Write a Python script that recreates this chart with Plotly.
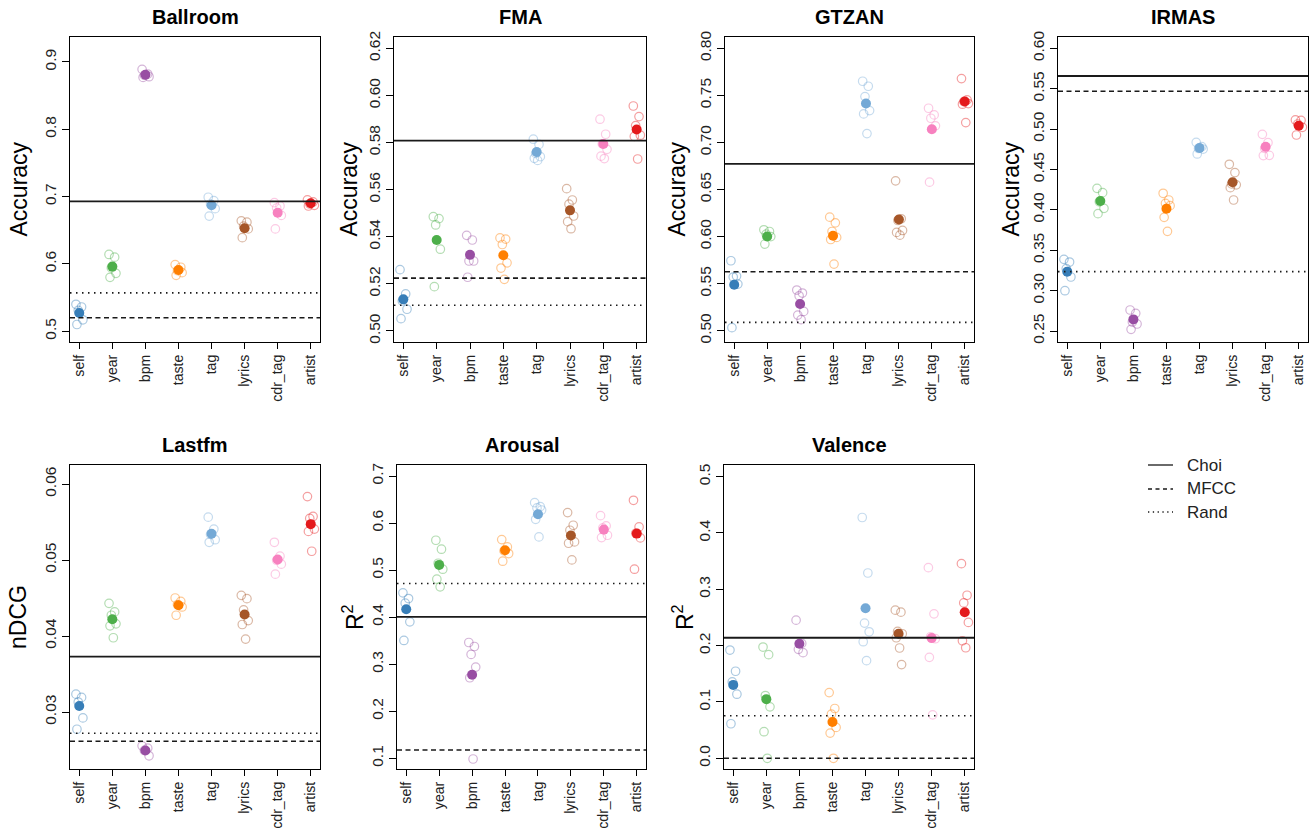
import plotly.graph_objects as go

W, H = 1314, 828
FONT = "Liberation Sans, Arial, Helvetica, sans-serif"

# ---- categories and colours ----
categories = ["self", "year", "bpm", "taste", "tag", "lyrics", "cdr_tag", "artist"]
point_colors = ["#377EB8", "#4DAF4A", "#984EA3", "#FF7F00",
                "#74A9D6", "#A65628", "#F781BF", "#E41A1C"]

# ---- per-run scores (open circles) and mean score (filled dot) ----
ballroom_runs = [
    [0.540, 0.536, 0.531, 0.517, 0.510],
    [0.614, 0.610, 0.594, 0.586, 0.580],
    [0.889, 0.882, 0.880, 0.878, 0.877],
    [0.599, 0.595, 0.590, 0.587, 0.583],
    [0.699, 0.694, 0.689, 0.682, 0.671],
    [0.664, 0.662, 0.656, 0.652, 0.639],
    [0.691, 0.686, 0.683, 0.672, 0.652],
    [0.695, 0.692, 0.689, 0.687, 0.686],
]
ballroom_mean = [0.527, 0.596, 0.881, 0.591, 0.687, 0.653, 0.676, 0.690]
ballroom_choi, ballroom_mfcc, ballroom_rand = 0.693, 0.520, 0.557

fma_runs = [
    [0.5260, 0.5157, 0.5127, 0.5092, 0.5052],
    [0.5485, 0.5477, 0.5450, 0.5347, 0.5188],
    [0.5406, 0.5386, 0.5297, 0.5297, 0.5228],
    [0.5395, 0.5390, 0.5367, 0.5289, 0.5267, 0.5219],
    [0.5814, 0.5792, 0.5754, 0.5740, 0.5733, 0.5724],
    [0.5604, 0.5556, 0.5538, 0.5488, 0.5464, 0.5434],
    [0.5899, 0.5835, 0.5794, 0.5771, 0.5742, 0.5732],
    [0.5955, 0.5910, 0.5872, 0.5831, 0.5826, 0.5730],
]
fma_mean = [0.5134, 0.5386, 0.5323, 0.5321, 0.5760, 0.5512, 0.5794, 0.5855]
fma_choi, fma_mfcc, fma_rand = 0.5808, 0.5224, 0.5109

gtzan_runs = [
    [0.5743, 0.5580, 0.5570, 0.5495, 0.5032],
    [0.6072, 0.6054, 0.6026, 0.6000, 0.5920],
    [0.5432, 0.5400, 0.5371, 0.5205, 0.5166, 0.5117],
    [0.6206, 0.6146, 0.6054, 0.5991, 0.5969, 0.5708],
    [0.7650, 0.7597, 0.7487, 0.7338, 0.7303, 0.7094],
    [0.6592, 0.6189, 0.6171, 0.6065, 0.6044, 0.6015],
    [0.7363, 0.7292, 0.7257, 0.7176, 0.6578],
    [0.7678, 0.7452, 0.7434, 0.7413, 0.7406, 0.7211],
]
gtzan_mean = [0.5488, 0.6001, 0.5283, 0.6008, 0.7413, 0.6182, 0.7140, 0.7434]
gtzan_choi, gtzan_mfcc, gtzan_rand = 0.6772, 0.5626, 0.5088

irmas_runs = [
    [0.3387, 0.3354, 0.3272, 0.3169, 0.2999],
    [0.4266, 0.4213, 0.4100, 0.4019, 0.3953],
    [0.2760, 0.2719, 0.2611, 0.2587, 0.2521],
    [0.4205, 0.4122, 0.4081, 0.4052, 0.3907, 0.3734],
    [0.4836, 0.4782, 0.4760, 0.4753, 0.4692],
    [0.4564, 0.4461, 0.4321, 0.4310, 0.4275, 0.4122],
    [0.4935, 0.4832, 0.4762, 0.4675, 0.4672],
    [0.5113, 0.5108, 0.5063, 0.5022, 0.4927],
]
irmas_mean = [0.3235, 0.4110, 0.2644, 0.4015, 0.4766, 0.4341, 0.4782, 0.5042]
irmas_choi, irmas_mfcc, irmas_rand = 0.5657, 0.5468, 0.3235

lastfm_runs = [
    [0.03235, 0.03192, 0.03131, 0.02922, 0.02773],
    [0.04430, 0.04317, 0.04273, 0.04160, 0.04134, 0.03977],
    [0.02555, 0.02524, 0.02494, 0.02424],
    [0.04500, 0.04456, 0.04413, 0.04382, 0.04273],
    [0.05564, 0.05407, 0.05337, 0.05267, 0.05233],
    [0.04535, 0.04491, 0.04343, 0.04203, 0.04151, 0.03959],
    [0.05233, 0.05050, 0.04997, 0.04945, 0.04814],
    [0.05834, 0.05573, 0.05547, 0.05407, 0.05376, 0.05115],
]
lastfm_mean = [0.03078, 0.04221, 0.02494, 0.04404, 0.05346, 0.04282, 0.05006, 0.05472]
lastfm_choi, lastfm_mfcc, lastfm_rand = 0.03728, 0.02616, 0.02721

arousal_runs = [
    [0.4517, 0.4396, 0.4297, 0.3901, 0.3505],
    [0.5635, 0.5444, 0.5146, 0.5019, 0.4807, 0.4644],
    [0.3462, 0.3377, 0.3208, 0.2939, 0.2712, 0.0986],
    [0.5649, 0.5493, 0.5408, 0.5352, 0.5189],
    [0.6434, 0.6349, 0.6321, 0.6278, 0.6080, 0.5705],
    [0.6222, 0.5953, 0.5847, 0.5599, 0.5571, 0.5217],
    [0.6158, 0.5939, 0.5896, 0.5741, 0.5691],
    [0.6484, 0.5918, 0.5783, 0.5684, 0.5019],
]
arousal_mean = [0.4170, 0.5111, 0.2776, 0.5422, 0.6186, 0.5734, 0.5861, 0.5776]
arousal_choi, arousal_mfcc, arousal_rand = 0.4007, 0.1177, 0.4715

valence_runs = [
    [0.1922, 0.1545, 0.1356, 0.1138, 0.0613],
    [0.1975, 0.1840, 0.1114, 0.0914, 0.0472, 0.0000],
    [0.2453, 0.2040, 0.1934, 0.1875],
    [0.1167, 0.0884, 0.0784, 0.0548, 0.0448, 0.0000],
    [0.4275, 0.3290, 0.2400, 0.2246, 0.2070, 0.1733],
    [0.2630, 0.2594, 0.2252, 0.2211, 0.2140, 0.1958, 0.1663],
    [0.3384, 0.2565, 0.2158, 0.2123, 0.1792, 0.0772],
    [0.3455, 0.2895, 0.2759, 0.2412, 0.2087, 0.1963],
]
valence_mean = [0.1303, 0.1050, 0.2034, 0.0643, 0.2665, 0.2211, 0.2134, 0.2594]
valence_choi, valence_mfcc, valence_rand = 0.2140, 0.0000, 0.0755

# ---- y tick labels ----
ballroom_ticks = ["0.5", "0.6", "0.7", "0.8", "0.9"]
fma_ticks = ["0.50", "0.52", "0.54", "0.56", "0.58", "0.60", "0.62"]
gtzan_ticks = ["0.50", "0.55", "0.60", "0.65", "0.70", "0.75", "0.80"]
irmas_ticks = ["0.25", "0.30", "0.35", "0.40", "0.45", "0.50", "0.55", "0.60"]
lastfm_ticks = ["0.03", "0.04", "0.05", "0.06"]
arousal_ticks = ["0.1", "0.2", "0.3", "0.4", "0.5", "0.6", "0.7"]
valence_ticks = ["0.0", "0.1", "0.2", "0.3", "0.4", "0.5"]

panels = [
    dict(title="Ballroom", ylab="Accuracy", runs=ballroom_runs, mean=ballroom_mean,
         base=(ballroom_choi, ballroom_mfcc, ballroom_rand), ticks=ballroom_ticks,
         box=(70, 320, 37, 342), yr=(0.484, 0.937), ylab_x=18),
    dict(title="FMA", ylab="Accuracy", runs=fma_runs, mean=fma_mean,
         base=(fma_choi, fma_mfcc, fma_rand), ticks=fma_ticks,
         box=(394, 646, 37, 342), yr=(0.4953, 0.6248), ylab_x=348),
    dict(title="GTZAN", ylab="Accuracy", runs=gtzan_runs, mean=gtzan_mean,
         base=(gtzan_choi, gtzan_mfcc, gtzan_rand), ticks=gtzan_ticks,
         box=(725, 974, 37, 342), yr=(0.488, 0.812), ylab_x=676),
    dict(title="IRMAS", ylab="Accuracy", runs=irmas_runs, mean=irmas_mean,
         base=(irmas_choi, irmas_mfcc, irmas_rand), ticks=irmas_ticks,
         box=(1058, 1308, 37, 342), yr=(0.2364, 0.614), ylab_x=1010),
    dict(title="Lastfm", ylab="nDCG", runs=lastfm_runs, mean=lastfm_mean,
         base=(lastfm_choi, lastfm_mfcc, lastfm_rand), ticks=lastfm_ticks,
         box=(70, 320, 465, 769), yr=(0.0225, 0.0625), ylab_x=18),
    dict(title="Arousal", ylab="R<sup>2</sup>", runs=arousal_runs, mean=arousal_mean,
         base=(arousal_choi, arousal_mfcc, arousal_rand), ticks=arousal_ticks,
         box=(397, 646, 465, 769), yr=(0.0773, 0.7234), ylab_x=353),
    dict(title="Valence", ylab="R<sup>2</sup>", runs=valence_runs, mean=valence_mean,
         base=(valence_choi, valence_mfcc, valence_rand), ticks=valence_ticks,
         box=(724, 974, 465, 769), yr=(-0.019, 0.5207), ylab_x=683),
]

# horizontal jitter pattern for the individual runs
JITTER = [-0.10, 0.07, -0.03, 0.11, -0.07, 0.03, 0.09]
LINE_STYLES = [("solid", 1.8), ("5px,3.5px", 1.6), ("1.5px,4.5px", 1.6)]
LINE_COLOR = "#1a1a1a"
XTICK_FONT = dict(size=14.1, family=FONT, color="#222222")
YTICK_FONT = dict(size=15.5, family=FONT, color="#222222")


def px_x(p):
    return p / W


def px_y(p):
    return 1 - p / H


def rgba(hex_color, a):
    h = hex_color.lstrip("#")
    r, g, b = int(h[0:2], 16), int(h[2:4], 16), int(h[4:6], 16)
    return f"rgba({r},{g},{b},{a})"


fig = go.Figure()
layout = dict(
    width=W, height=H,
    margin=dict(l=0, r=0, t=0, b=0, autoexpand=False),
    paper_bgcolor="white", plot_bgcolor="white",
    showlegend=False,
    font=dict(family=FONT, color="#222222"),
)
shapes = []
annotations = []

for i, p in enumerate(panels):
    n = "" if i == 0 else str(i + 1)
    xa, ya = "x" + n, "y" + n
    x0, x1, y0, y1 = p["box"]

    ox, oy = [], []
    for ci, vals in enumerate(p["runs"]):
        for k, v in enumerate(vals):
            ox.append(ci + 1 + JITTER[k % len(JITTER)])
            oy.append(v)
    ocol = [rgba(point_colors[ci], 0.42)
            for ci, vals in enumerate(p["runs"]) for _ in vals]
    fig.add_trace(go.Scatter(
        x=ox, y=oy, mode="markers", xaxis=xa, yaxis=ya,
        marker=dict(symbol="circle-open", size=8.5, color=ocol,
                    line=dict(width=1.2, color=ocol)),
        hoverinfo="skip"))
    fig.add_trace(go.Scatter(
        x=list(range(1, len(categories) + 1)), y=p["mean"], mode="markers",
        xaxis=xa, yaxis=ya,
        marker=dict(symbol="circle", size=10, color=point_colors,
                    line=dict(width=0)),
        hoverinfo="skip"))

    for val, (dash, lw) in zip(p["base"], LINE_STYLES):
        shapes.append(dict(type="line", xref=xa + " domain", yref=ya,
                           x0=0, x1=1, y0=val, y1=val,
                           line=dict(color=LINE_COLOR, width=lw, dash=dash)))

    tickvals = [float(t) for t in p["ticks"]]
    layout["xaxis" + n] = dict(
        domain=[px_x(x0), px_x(x1)], anchor=ya, range=[0.72, 8.28],
        tickvals=list(range(1, len(categories) + 1)), ticktext=categories,
        tickangle=-90, ticks="outside", ticklen=6, tickwidth=1, tickcolor="black",
        automargin=False,
        showline=True, mirror=True, linecolor="black", linewidth=1.2,
        showgrid=False, zeroline=False, fixedrange=True, tickfont=XTICK_FONT)
    layout["yaxis" + n] = dict(
        domain=[px_y(y1), px_y(y0)], anchor=xa, range=list(p["yr"]),
        tickvals=tickvals, ticktext=p["ticks"], automargin=False,
        tickangle=-90, ticks="outside", ticklen=7, tickwidth=1, tickcolor="black",
        showline=True, mirror=True, linecolor="black", linewidth=1.2,
        showgrid=False, zeroline=False, fixedrange=True, tickfont=YTICK_FONT)

    annotations.append(dict(
        text="<b>" + p["title"] + "</b>", xref="paper", yref="paper",
        x=px_x((x0 + x1) / 2), y=px_y(y0 - 20), xanchor="center", yanchor="middle",
        showarrow=False, font=dict(size=20, family=FONT, color="black")))
    annotations.append(dict(
        text=p["ylab"], xref="paper", yref="paper", textangle=-90,
        x=px_x(p["ylab_x"]), y=px_y((y0 + y1) / 2), xanchor="center", yanchor="middle",
        showarrow=False, font=dict(size=23, family=FONT, color="black")))

# legend for the reference lines
legend_names = ["Choi", "MFCC", "Rand"]
legend_y = [465, 489, 512]
legend_dash = ["solid", "4px,3.5px", "1.3px,3.5px"]
for name, yy, dash in zip(legend_names, legend_y, legend_dash):
    shapes.append(dict(type="line", xref="paper", yref="paper",
                       x0=px_x(1148), x1=px_x(1173), y0=px_y(yy), y1=px_y(yy),
                       line=dict(color=LINE_COLOR, width=1.3, dash=dash)))
    annotations.append(dict(
        text=name, xref="paper", yref="paper", x=px_x(1185), y=px_y(yy),
        xanchor="left", yanchor="middle", showarrow=False,
        font=dict(size=17, family=FONT, color="#222222")))

layout["shapes"] = shapes
layout["annotations"] = annotations
fig.update_layout(**layout)
fig.write_html("out.html")
